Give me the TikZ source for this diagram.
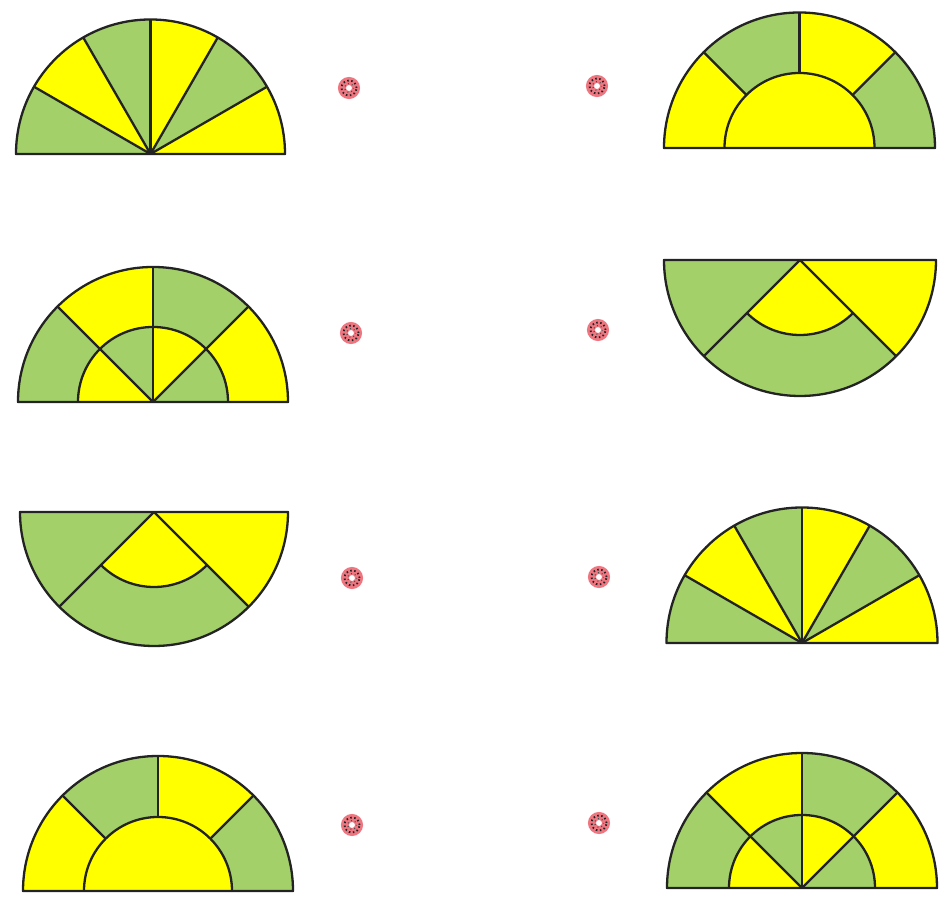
\documentclass[tikz,border=0pt]{standalone}
\usetikzlibrary{calc}
\definecolor{fgreen}{RGB}{163,208,104}
\definecolor{fyellow}{RGB}{255,255,0}
\definecolor{edge}{RGB}{35,35,35}
\definecolor{dotpink}{RGB}{238,118,128}
\tikzset{
  gr/.style={fill=fgreen},
  ye/.style={fill=fyellow},
  outl/.style={draw=edge,line width=2.3pt,line join=round},
  dotring/.style={circle,minimum size=14pt,inner sep=0pt,draw=dotpink,line width=8pt},
}
% fan of six 30-degree sectors
\newcommand\fanfig[3]{% cx, cy, r
 \begin{scope}[shift={(#1,#2)}]
  \foreach \a/\c in {150/gr,120/ye,90/gr,60/ye,30/gr,0/ye}
    \fill[\c] (0,0) -- (\a:#3pt) arc[start angle=\a,delta angle=30,radius=#3pt] -- cycle;
  \foreach \a in {30,60,90,120,150} \draw[outl] (0,0) -- (\a:#3pt);
  \draw[outl] (180:#3pt) arc[start angle=180,end angle=0,radius=#3pt] -- cycle;
 \end{scope}}
% ring of four sectors with a yellow inner half disc
\newcommand\ringfig[4]{% cx, cy, r, ri
 \begin{scope}[shift={(#1,#2)}]
  \foreach \a/\c in {135/ye,90/gr,45/ye,0/gr}
    \fill[\c] (\a:#4pt) -- (\a:#3pt) arc[start angle=\a,delta angle=45,radius=#3pt]
      -- ({\a+45}:#4pt) arc[start angle={\a+45},delta angle=-45,radius=#4pt] -- cycle;
  \fill[ye] (0:#4pt) arc[start angle=0,end angle=180,radius=#4pt] -- cycle;
  \foreach \a in {45,90,135} \draw[outl] (\a:#4pt) -- (\a:#3pt);
  \draw[outl] (0:#4pt) arc[start angle=0,end angle=180,radius=#4pt];
  \draw[outl] (180:#3pt) arc[start angle=180,end angle=0,radius=#3pt] -- cycle;
 \end{scope}}
% ring and inner wedges, alternating colours
\newcommand\splitfig[4]{% cx, cy, r, ri
 \begin{scope}[shift={(#1,#2)}]
  \foreach \a/\c in {135/gr,90/ye,45/gr,0/ye}
    \fill[\c] (\a:#4pt) -- (\a:#3pt) arc[start angle=\a,delta angle=45,radius=#3pt]
      -- ({\a+45}:#4pt) arc[start angle={\a+45},delta angle=-45,radius=#4pt] -- cycle;
  \foreach \a/\c in {135/ye,90/gr,45/ye,0/gr}
    \fill[\c] (0,0) -- (\a:#4pt) arc[start angle=\a,delta angle=45,radius=#4pt] -- cycle;
  \foreach \a in {45,90,135} \draw[outl] (0,0) -- (\a:#3pt);
  \draw[outl] (0:#4pt) arc[start angle=0,end angle=180,radius=#4pt];
  \draw[outl] (180:#3pt) arc[start angle=180,end angle=0,radius=#3pt] -- cycle;
 \end{scope}}
% inverted half disc
\newcommand\downfig[4]{% cx, cy, r, ri
 \begin{scope}[shift={(#1,#2)}]
  \fill[gr] (0,0) -- (180:#3pt) arc[start angle=180,end angle=225,radius=#3pt] -- cycle;
  \fill[ye] (0,0) -- (315:#3pt) arc[start angle=315,end angle=360,radius=#3pt] -- cycle;
  \fill[gr] (225:#4pt) -- (225:#3pt) arc[start angle=225,end angle=315,radius=#3pt]
      -- (315:#4pt) arc[start angle=315,end angle=225,radius=#4pt] -- cycle;
  \fill[ye] (0,0) -- (225:#4pt) arc[start angle=225,end angle=315,radius=#4pt] -- cycle;
  \draw[outl] (225:#3pt) -- (0,0) -- (315:#3pt);
  \draw[outl] (225:#4pt) arc[start angle=225,end angle=315,radius=#4pt];
  \draw[outl] (180:#3pt) arc[start angle=180,end angle=360,radius=#3pt] -- cycle;
 \end{scope}}
\begin{document}
\begin{tikzpicture}[x=1pt,y=1pt]
\useasboundingbox (0,0) rectangle (948,909);
\fill[white] (0,0) rectangle (948,909);
% left column
\fanfig{150.5}{755}{134.5}
\splitfig{153}{507}{135}{75}
\downfig{154}{397}{134}{75}
\ringfig{158}{18}{135}{74}
% right column
\ringfig{799.5}{761}{135.5}{75}
\downfig{800}{649}{136}{75}
\fanfig{802}{266}{135.5}
\splitfig{802}{21}{135}{73}
% matching dots
\foreach \n/\x/\y in {l1/349/821,l2/351/576,l3/352/331,l4/352/84,
                      r1/597/823,r2/598/579,r3/599/332,r4/599/86}{
  \node[dotring] (\n) at (\x,\y) {};
  \draw[edge,line width=1.8pt,dash pattern=on 1.5pt off 2.5pt] (\n.center) circle[radius=7.5pt];
  \draw[edge!80,line width=1.2pt,dash pattern=on 1pt off 3pt,dash phase=1pt] (\n.center) circle[radius=4.5pt];
}
\end{tikzpicture}
\end{document}
